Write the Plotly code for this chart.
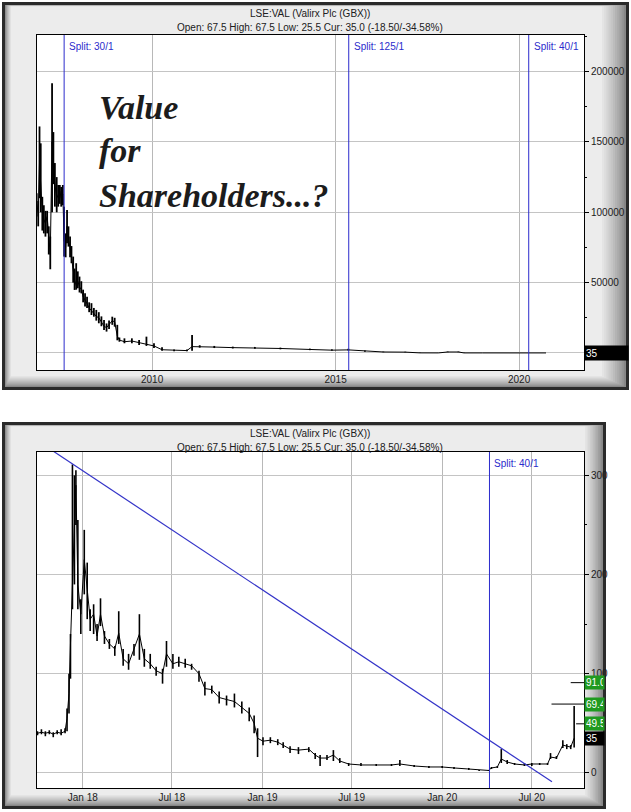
import plotly.graph_objects as go

W, H = 631, 812

# ---------------- DATA: top panel (long history, split adjusted) ----------------
top_dates = ["2006-11-10", "2006-11-25", "2006-12-08", "2006-12-20", "2007-01-05", "2007-01-20",
             "2007-02-05", "2007-02-22", "2007-03-10", "2007-03-25", "2007-04-12", "2007-04-25",
             "2007-05-10", "2007-05-28", "2007-06-12", "2007-06-28", "2007-07-12", "2007-07-28",
             "2007-08-10", "2007-08-25", "2007-09-08", "2007-09-22", "2007-10-08", "2007-10-22",
             "2007-11-08", "2007-11-22", "2007-12-08", "2007-12-24", "2008-01-10", "2008-01-28",
             "2008-02-15", "2008-03-05", "2008-03-25", "2008-04-15", "2008-05-08", "2008-06-01",
             "2008-06-25", "2008-07-20", "2008-08-15", "2008-09-10", "2008-10-05", "2008-10-30",
             "2008-12-01", "2008-12-25", "2009-01-20", "2009-02-10", "2009-04-01", "2009-06-14",
             "2009-08-25", "2009-11-06", "2010-01-20", "2010-04-10", "2010-08-08", "2010-12-14",
             "2011-02-03", "2011-04-20", "2011-09-12", "2012-03-14", "2012-10-20", "2013-07-01",
             "2014-04-20", "2014-11-25", "2015-05-08", "2015-10-20", "2016-04-20", "2016-11-25",
             "2017-04-20", "2017-10-20", "2018-01-20", "2018-05-08", "2018-07-01", "2019-01-01",
             "2019-07-01", "2020-01-01", "2020-04-20", "2020-09-25"]
top_close = [106000, 100000, 135000, 118000, 100000, 95000,
             92000, 97000, 80000, 70000, 150000, 135000,
             120000, 110000, 112000, 115000, 110000, 113000,
             80000, 75000, 90000, 80000, 75000, 68000,
             58000, 52000, 48000, 51000, 47000, 45000,
             40000, 37000, 35000, 32000, 30000, 28000,
             26000, 25000, 22000, 19000, 18000, 20000,
             23000, 22000, 12000, 9200, 8000, 8500,
             7500, 6000, 5000, 2300, 1800, 1700,
             4500, 4500, 4200, 3800, 3600, 3200,
             2500, 2000, 2200, 1300, 700, 600,
             60, 40, 700, 700, 50, 40,
             30, 20, 25, 35]
top_high = [113500, 108000, 161000, 149000, 111000, 105000,
            101000, 101000, 90000, 82700, 191700, 157000,
            135000, 125000, 119400, 119400, 118000, 119400,
            104000, 85000, 101700, 90000, 82700, 76000,
            68500, 60000, 63800, 58000, 54300, 51000,
            45000, 42400, 40000, 36000, 35400, 32000,
            30600, 29000, 26000, 23500, 21000, 23000,
            25800, 25000, 20000, 11000, 10400, 10400,
            9200, 11600, 6900, 4000, 2500, 2400,
            12800, 5500, 5000, 4500, 4300, 3800,
            3100, 2600, 3000, 1700, 1000, 900,
            150, 80, 1000, 1000, 100, 60,
            40, 30, 40, 67.5]
top_low = [97000, 90000, 110000, 100000, 87000, 85000,
           82700, 85000, 70000, 59500, 100000, 120000,
           104000, 100000, 104000, 106000, 104000, 105000,
           68500, 68000, 78000, 75600, 68000, 63800,
           50000, 44800, 45000, 46000, 43000, 42400,
           36000, 33000, 32000, 29000, 27000, 25800,
           23000, 21100, 19000, 16400, 15200, 17000,
           20000, 18700, 9000, 8000, 6900, 6900,
           5700, 5000, 3500, 1500, 1200, 1200,
           1500, 3800, 3500, 3200, 3000, 2600,
           2000, 1600, 1700, 900, 500, 400,
           30, 30, 500, 500, 40, 30,
           20, 15, 15, 25.5]

top_split_dates = ["2007-08-10", "2015-05-12", "2020-04-06"]
top_split_labels = ["Split: 30/1", "Split: 125/1", "Split: 40/1"]
top_tick_dates = ["2010-01-01", "2015-01-01", "2020-01-01"]
top_tick_labels = ["2010", "2015", "2020"]
top_y_ticks = [0, 50000, 100000, 150000, 200000]
top_y_labels = ["", "50000", "100000", "150000", "200000"]

# ---------------- DATA: bottom panel (recent period) ----------------
bot_dates = ["2017-10-01", "2017-10-09", "2017-10-17", "2017-10-25", "2017-11-02", "2017-11-10",
             "2017-11-18", "2017-11-26", "2017-11-30", "2017-12-04", "2017-12-07", "2017-12-11",
             "2017-12-15", "2017-12-18", "2017-12-22", "2017-12-28", "2018-01-04", "2018-01-10",
             "2018-01-16", "2018-01-23", "2018-01-30", "2018-02-06", "2018-02-14", "2018-02-24",
             "2018-03-07", "2018-03-15", "2018-03-24", "2018-04-04", "2018-04-15", "2018-04-26",
             "2018-05-06", "2018-05-18", "2018-05-30", "2018-06-12", "2018-06-20", "2018-07-03",
             "2018-07-15", "2018-07-28", "2018-08-10", "2018-08-25", "2018-09-06", "2018-09-20",
             "2018-10-05", "2018-10-20", "2018-11-05", "2018-11-20", "2018-12-05", "2018-12-15",
             "2018-12-22", "2019-01-02", "2019-01-17", "2019-02-01", "2019-02-12", "2019-02-26",
             "2019-03-15", "2019-04-05", "2019-04-18", "2019-04-28", "2019-05-12", "2019-05-25",
             "2019-06-07", "2019-06-25", "2019-07-20", "2019-08-20", "2019-09-20", "2019-10-07",
             "2019-11-05", "2019-12-05", "2020-01-01", "2020-01-25", "2020-02-24", "2020-03-16",
             "2020-04-04", "2020-04-10", "2020-04-22", "2020-04-30", "2020-05-12", "2020-05-27",
             "2020-06-16", "2020-07-01", "2020-07-17", "2020-08-02", "2020-08-08", "2020-08-20",
             "2020-09-02", "2020-09-10", "2020-09-18", "2020-09-25"]
bot_close = [40, 41, 40, 41, 39, 41, 40, 42, 55, 80, 130, 200,
             250, 290, 190, 160, 215, 185, 155, 160, 138, 160, 138, 130,
             125, 141, 115, 110, 124, 140, 115, 110, 103, 100, 120, 110,
             112, 110, 108, 100, 85, 84, 76, 74, 72, 66, 60, 50,
             35, 32, 33, 31, 28, 24, 23, 24, 18, 15, 15, 18,
             12, 9, 8, 8, 8, 9, 7, 6, 6, 5, 4, 3,
             2.5, 5, 6, 14, 11, 9, 8, 9, 9, 9, 16, 15,
             28, 27, 26, 35]
bot_high = [42, 44, 42, 43, 41, 43, 44, 45, 65, 100, 140, 311,
            300, 305, 255, 175, 245, 212, 165, 170, 150, 176, 143, 135,
            128, 163, 125, 120, 130, 160, 125, 120, 107, 105, 133, 120,
            117, 115, 110, 103, 92, 88, 82, 78, 80, 72, 66, 58,
            45, 36, 36, 34, 31, 27, 26, 26, 20, 18, 18, 23,
            15, 10, 10, 9, 9, 13, 8, 7, 7, 6, 5, 3,
            3, 6, 7, 24, 13, 10, 10, 10, 10, 10, 20, 17,
            33, 29, 28, 67.5]
bot_low = [38, 39, 37, 39, 36, 39, 38, 40, 42, 60, 95, 165,
           190, 250, 165, 140, 180, 155, 143, 140, 133, 148, 130, 125,
           118, 130, 108, 104, 118, 114, 107, 105, 98, 90, 107, 105,
           107, 106, 104, 92, 78, 80, 70, 68, 66, 60, 52, 40,
           16, 28, 30, 28, 25, 20, 19, 21, 14, 7, 13, 12,
           10, 7, 7, 7, 7, 7, 6, 5, 5, 4, 3, 2,
           2, 4, 5, 10, 9, 8, 7, 7, 8, 8, 14, 14,
           25, 24, 24, 25.5]

bot_split_dates = ["2020-04-06"]
bot_split_labels = ["Split: 40/1"]
bot_tick_dates = ["2018-01-01", "2018-07-01", "2019-01-01", "2019-07-01", "2020-01-01", "2020-07-01"]
bot_tick_labels = ["Jan 18", "Jul 18", "Jan 19", "Jul 19", "Jan 20", "Jul 20"]
bot_y_ticks = [0, 100, 200, 300]

trend_dates = ["2017-11-03", "2020-08-11"]
trend_values = [324, -9]

level_values = [91.0, 69.4, 49.5]
level_labels = ["91.0", "69.4", "49.5"]
level_start_dates = ["2020-09-18", "2020-08-10", "2020-09-29"]
current_value = 35
current_label = "35"

header_title = "LSE:VAL (Valirx Plc (GBX))"
header_stats = "Open: 67.5 High: 67.5 Low: 25.5 Cur: 35.0 (-18.50/-34.58%)"
slogan_lines = ["Value", "for", "Shareholders...?"]

# ---------------- layout geometry (pixels) ----------------
TOP_PLOT = (37, 35, 584, 370)      # x0, y0, x1, y1
BOT_PLOT = (37, 452, 584, 788)
TOP_XRANGE = ["2006-11-13", "2021-10-08"]
TOP_YRANGE = [-12100, 226000]
BOT_XRANGE = ["2017-09-30", "2020-10-15"]
BOT_YRANGE = [-15.2, 323.5]

FONT = "Liberation Sans, Arial, sans-serif"
SPLIT_BLUE = "#2b2bcc"


def px(p):
    return p / W


def py(p):
    return 1 - p / H


def frame_shapes(x0, y0, x1, y1, rbev, bbev):
    out = [dict(type="rect", xref="paper", yref="paper", x0=px(x0), x1=px(x1), y0=py(y1), y1=py(y0),
                fillcolor="#2a2a2a", line=dict(width=0), layer="below")]
    n = 12
    for k in range(n):
        t = k / (n - 1)
        g = int(135 + (236 - 135) * t ** 0.8)
        out.append(dict(type="rect", xref="paper", yref="paper",
                        x0=px(x0 + 3 + 6 * t), x1=px(x1 - 3 - rbev * t),
                        y0=py(y1 - 3 - bbev * t), y1=py(y0 + 3 + 1.5 * t),
                        fillcolor=f"rgb({g},{g},{g})", line=dict(width=0), layer="below"))
    return out


def plot_bg(rect):
    x0, y0, x1, y1 = rect
    return dict(type="rect", xref="paper", yref="paper", x0=px(x0), x1=px(x1), y0=py(y1), y1=py(y0),
                fillcolor="white", line=dict(width=0), layer="below")


fig = go.Figure()

# top panel price bars
fig.add_trace(go.Scatter(
    x=top_dates, y=top_close, mode="lines", line=dict(color="black", width=1),
    error_y=dict(type="data", symmetric=False,
                 array=[h - c for h, c in zip(top_high, top_close)],
                 arrayminus=[c - l for c, l in zip(top_close, top_low)],
                 width=0, thickness=1.8, color="black"),
    xaxis="x", yaxis="y", hoverinfo="skip", showlegend=False))

# bottom panel price bars
fig.add_trace(go.Scatter(
    x=bot_dates, y=bot_close, mode="lines", line=dict(color="black", width=1),
    error_y=dict(type="data", symmetric=False,
                 array=[h - c for h, c in zip(bot_high, bot_close)],
                 arrayminus=[c - l for c, l in zip(bot_close, bot_low)],
                 width=0, thickness=1.6, color="black"),
    xaxis="x2", yaxis="y2", hoverinfo="skip", showlegend=False))

# split lines (as traces spanning the axis range)
for d in top_split_dates:
    fig.add_trace(go.Scatter(x=[d, d], y=TOP_YRANGE, mode="lines",
                             line=dict(color=SPLIT_BLUE, width=1),
                             xaxis="x", yaxis="y", hoverinfo="skip", showlegend=False))
for d in bot_split_dates:
    fig.add_trace(go.Scatter(x=[d, d], y=BOT_YRANGE, mode="lines",
                             line=dict(color=SPLIT_BLUE, width=1),
                             xaxis="x2", yaxis="y2", hoverinfo="skip", showlegend=False))

# trend line
fig.add_trace(go.Scatter(x=trend_dates, y=trend_values, mode="lines",
                         line=dict(color="#3434c8", width=1.2),
                         xaxis="x2", yaxis="y2", hoverinfo="skip", showlegend=False))

# level lines
for d, v in zip(level_start_dates, level_values):
    fig.add_trace(go.Scatter(x=[d, BOT_XRANGE[1]], y=[v, v], mode="lines",
                             line=dict(color="black", width=1),
                             xaxis="x2", yaxis="y2", hoverinfo="skip", showlegend=False))

shapes = []
shapes += frame_shapes(2, 2, 629, 390, 24, 11)
shapes += frame_shapes(2, 422, 606, 809, 18, 11)
shapes.append(plot_bg(TOP_PLOT))
shapes.append(plot_bg(BOT_PLOT))

annotations = []
for d, lab in zip(top_split_dates, top_split_labels):
    annotations.append(dict(x=d, xref="x", y=py(TOP_PLOT[1]), yref="paper", text=lab, showarrow=False,
                            xanchor="left", yanchor="top", xshift=3, yshift=-4,
                            font=dict(family=FONT, size=10, color=SPLIT_BLUE)))
for d, lab in zip(bot_split_dates, bot_split_labels):
    annotations.append(dict(x=d, xref="x2", y=py(BOT_PLOT[1]), yref="paper", text=lab, showarrow=False,
                            xanchor="left", yanchor="top", xshift=3, yshift=-4,
                            font=dict(family=FONT, size=10, color=SPLIT_BLUE)))

# headers
for top_y in (2, 422):
    annotations.append(dict(x=px(310), xref="paper", y=py(top_y + 11), yref="paper", text=header_title,
                            showarrow=False, xanchor="center", yanchor="middle",
                            font=dict(family=FONT, size=10, color="#202020")))
    annotations.append(dict(x=px(310), xref="paper", y=py(top_y + 25), yref="paper", text=header_stats,
                            showarrow=False, xanchor="center", yanchor="middle",
                            font=dict(family=FONT, size=10, color="#202020")))

# slogan
for line, yy in zip(slogan_lines, [107, 151, 195]):
    annotations.append(dict(x=px(97), xref="paper", y=py(yy), yref="paper", text=line, showarrow=False,
                            xanchor="left", yanchor="middle",
                            font=dict(family="Liberation Serif, serif", size=34, color="#1c1c1c",
                                      style="italic", weight="bold")))

# current price tag top
annotations.append(dict(x=px(584), xref="paper", y=current_value, yref="y", text=current_label,
                        showarrow=False, xanchor="left", yanchor="middle", align="left",
                        width=41, height=12, bgcolor="black", borderpad=1,
                        font=dict(family=FONT, size=10, color="white")))
# level tags bottom
for v, lab in zip(level_values, level_labels):
    annotations.append(dict(x=px(584), xref="paper", y=v, yref="y2", text=lab,
                            showarrow=False, xanchor="left", yanchor="middle", align="left",
                            width=17, height=11, bgcolor="#1f9a1f", borderpad=1,
                            font=dict(family=FONT, size=10, color="white")))
annotations.append(dict(x=px(584), xref="paper", y=current_value, yref="y2", text=current_label,
                        showarrow=False, xanchor="left", yanchor="middle", align="left",
                        width=17, height=11, bgcolor="black", borderpad=1,
                        font=dict(family=FONT, size=10, color="white")))

axis_font = dict(family=FONT, size=10, color="#202020")
common_x = dict(showline=True, mirror=True, linecolor="black", linewidth=1, ticks="",
                showgrid=True, gridcolor="#b8b8b8", gridwidth=1, tickfont=axis_font,
                zeroline=False, fixedrange=True, tickmode="array")
common_y = dict(showline=True, mirror=True, linecolor="black", linewidth=1, side="right",
                ticks="outside", ticklen=4, tickcolor="black", showgrid=True, gridcolor="#c4c4c4",
                gridwidth=1, tickfont=axis_font, zeroline=False, fixedrange=True, tickmode="array")

fig.update_layout(
    width=W, height=H, autosize=False,
    margin=dict(l=0, r=0, t=0, b=0),
    paper_bgcolor="white", plot_bgcolor="white",
    showlegend=False,
    xaxis=dict(common_x, domain=[px(TOP_PLOT[0]), px(TOP_PLOT[2])], range=TOP_XRANGE, type="date",
               tickvals=top_tick_dates, ticktext=top_tick_labels, anchor="y"),
    yaxis=dict(common_y, domain=[py(TOP_PLOT[3]), py(TOP_PLOT[1])], range=TOP_YRANGE,
               tickvals=top_y_ticks, ticktext=top_y_labels, anchor="x",
               minor=dict(ticks="outside", ticklen=2, tickcolor="black", dtick=25000, tick0=0,
                          showgrid=False)),
    xaxis2=dict(common_x, domain=[px(BOT_PLOT[0]), px(BOT_PLOT[2])], range=BOT_XRANGE, type="date",
                tickvals=bot_tick_dates, ticktext=bot_tick_labels, anchor="y2"),
    yaxis2=dict(common_y, domain=[py(BOT_PLOT[3]), py(BOT_PLOT[1])], range=BOT_YRANGE,
                tickvals=bot_y_ticks, ticktext=[str(v) for v in bot_y_ticks], anchor="x2",
                minor=dict(ticks="outside", ticklen=2, tickcolor="black", dtick=50, tick0=0,
                           showgrid=False)),
    shapes=shapes,
    annotations=annotations,
)

fig.write_html("out.html", config={"displayModeBar": False},
               post_script="document.body.style.margin='0';document.body.style.overflow='hidden';")
